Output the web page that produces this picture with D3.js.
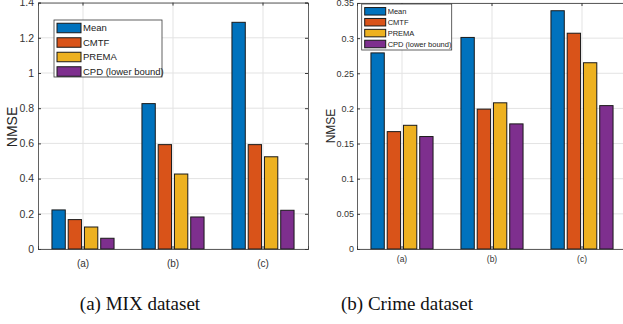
<!DOCTYPE html>
<html>
<head>
<meta charset="utf-8">
<script src="https://cdn.jsdelivr.net/npm/d3@7"></script>
<style>
body { margin: 0; background: #fff; }
text { font-family: "Liberation Sans", Arial, sans-serif; }
text.caption { font-family: "Liberation Serif", "Times New Roman", serif; }
</style>
</head>
<body>
<svg id="chart" width="623" height="324"></svg>
<script>
var categories = ["(a)", "(b)", "(c)"];
var series = ["Mean", "CMTF", "PREMA", "CPD (lower bound)"];
var colors = ["#0072BD", "#D95319", "#EDB120", "#7E2F8E"];

// MIX dataset
var mixMean = [0.222, 0.826, 1.288];
var mixCmtf = [0.167, 0.593, 0.593];
var mixPrema = [0.125, 0.426, 0.524];
var mixCpd = [0.061, 0.182, 0.220];
var mixTicks = [0, 0.2, 0.4, 0.6, 0.8, 1, 1.2, 1.4];

// Crime dataset
var crimeMean = [0.279, 0.301, 0.339];
var crimeCmtf = [0.167, 0.199, 0.307];
var crimePrema = [0.176, 0.208, 0.265];
var crimeCpd = [0.160, 0.178, 0.204];
var crimeTicks = [0, 0.05, 0.1, 0.15, 0.2, 0.25, 0.3, 0.35];

var svg = d3.select("#chart");
svg.append("rect").attr("width", 623).attr("height", 324).attr("fill", "#fff");

var axisColor = "#3a3a3a";

function panel(o) {
	var g = svg.append("g");
	var x = d3.scaleBand().domain(categories).range([o.left, o.right]);
	var bw = x.bandwidth();
	var xi = d3.scaleBand().domain(series)
		.range([bw * 0.155, bw * 0.845])
		.paddingInner(0.18);
	var y = d3.scaleLinear().domain([0, o.yMax]).range([o.bottom, o.top]);

	// grid
	g.append("g").selectAll("line").data(o.ticks).enter().append("line")
		.attr("x1", o.left).attr("x2", o.right)
		.attr("y1", function (d) { return y(d); })
		.attr("y2", function (d) { return y(d); })
		.attr("stroke", "#e3e3e3").attr("stroke-width", 1);
	g.append("g").selectAll("line").data(categories).enter().append("line")
		.attr("x1", function (d) { return x(d) + bw / 2; })
		.attr("x2", function (d) { return x(d) + bw / 2; })
		.attr("y1", o.top).attr("y2", o.bottom)
		.attr("stroke", "#e3e3e3").attr("stroke-width", 1);

	// bars
	o.values.forEach(function (vals, si) {
		g.append("g").selectAll("rect").data(vals).enter().append("rect")
			.attr("x", function (d, i) { return x(categories[i]) + xi(series[si]); })
			.attr("width", xi.bandwidth())
			.attr("y", function (d) { return y(d); })
			.attr("height", function (d) { return y(0) - y(d); })
			.attr("fill", colors[si])
			.attr("stroke", "#1a1a1a")
			.attr("stroke-width", 1);
	});

	// axes
	var ax = g.append("g").attr("transform", "translate(" + o.left + ",0)")
		.call(d3.axisLeft(y).tickValues(o.ticks).tickSize(-3).tickPadding(o.yPad)
			.tickFormat(function (d) { return String(d); }));
	var axr = g.append("g").attr("transform", "translate(" + o.right + ",0)")
		.call(d3.axisRight(y).tickValues(o.ticks).tickSize(-3).tickFormat(""));
	var axb = g.append("g").attr("transform", "translate(0," + o.bottom + ")")
		.call(d3.axisBottom(x).tickSize(-3).tickPadding(o.xPad));
	var axt = g.append("g").attr("transform", "translate(0," + o.top + ")")
		.call(d3.axisTop(x).tickSize(-3).tickFormat(""));
	[ax, axr, axb, axt].forEach(function (a) {
		a.select(".domain").attr("stroke", axisColor).attr("stroke-width", 0.8);
		a.selectAll(".tick line").attr("stroke", axisColor);
		a.selectAll("text").attr("fill", "#333");
	});
	ax.selectAll("text").attr("font-size", o.tickFont);
	axb.selectAll("text").attr("font-size", o.xFont);

	g.append("text")
		.attr("transform", "translate(" + o.labelX + "," + o.labelY + ") rotate(-90)")
		.attr("text-anchor", "middle")
		.attr("font-size", o.labelFont)
		.attr("fill", "#262626")
		.text("NMSE");

	// legend
	var lg = g.append("g");
	lg.append("rect")
		.attr("x", o.lg.x).attr("y", o.lg.y)
		.attr("width", o.lg.w).attr("height", o.lg.h)
		.attr("fill", "#fff").attr("stroke", axisColor).attr("stroke-width", 0.8);
	series.forEach(function (s, i) {
		var ry = o.lg.y + o.lg.first + i * o.lg.step;
		lg.append("rect")
			.attr("x", o.lg.x + 3).attr("y", ry - o.lg.sh / 2)
			.attr("width", o.lg.sw).attr("height", o.lg.sh)
			.attr("fill", colors[i]).attr("stroke", "#1a1a1a").attr("stroke-width", 1);
		lg.append("text")
			.attr("x", o.lg.x + 5 + o.lg.sw).attr("y", ry)
			.attr("dy", "0.35em")
			.attr("font-size", o.lg.font)
			.attr("fill", "#222")
			.text(s);
	});

	svg.append("text")
		.attr("class", "caption")
		.attr("x", o.capX).attr("y", 310)
		.attr("text-anchor", "middle")
		.attr("font-size", 19)
		.attr("fill", "#111")
		.text(o.caption);
}

panel({
	left: 38, right: 308, top: 2.6, bottom: 249, yMax: 1.4,
	ticks: mixTicks,
	values: [mixMean, mixCmtf, mixPrema, mixCpd],
	yPad: 4, xPad: 11, tickFont: 10.5, xFont: 10,
	labelX: 17, labelY: 127, labelFont: 14,
	lg: { x: 54, y: 20, w: 108, h: 57, first: 8, step: 14.5, sw: 24, sh: 9.5, font: 9.5 },
	capX: 140, caption: "(a) MIX dataset"
});

panel({
	left: 357, right: 627, top: 3, bottom: 249, yMax: 0.35,
	ticks: crimeTicks,
	values: [crimeMean, crimeCmtf, crimePrema, crimeCpd],
	yPad: 3, xPad: 6.5, tickFont: 9, xFont: 8.5,
	labelX: 335, labelY: 126, labelFont: 12,
	lg: { x: 361.7, y: 4, w: 90, h: 46, first: 7.3, step: 10.9, sw: 21, sh: 7.5, font: 7.5 },
	capX: 407, caption: "(b) Crime dataset"
});
</script>
</body>
</html>
